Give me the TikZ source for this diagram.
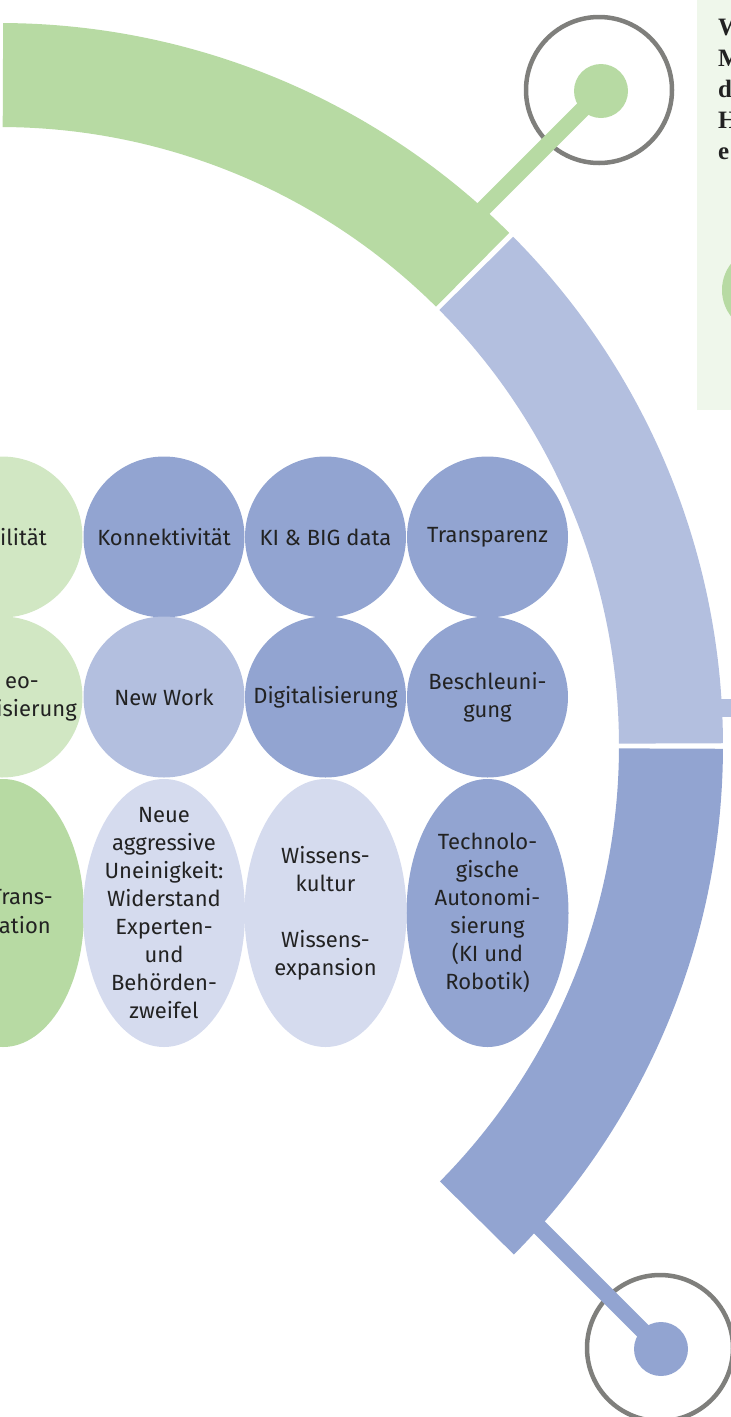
\documentclass[tikz,border=0pt]{standalone}
\usepackage{fontspec}
\setmainfont{Fira Sans}
\newfontfamily\panelfont{Liberation Serif}
\usetikzlibrary{shapes.geometric}

\definecolor{arcgreen}{HTML}{B7DAA3}
\definecolor{palegreen}{HTML}{D1E7C3}
\definecolor{panelgreen}{HTML}{EFF7EB}
\definecolor{deepblue}{HTML}{92A4D1}
\definecolor{midblue}{HTML}{B3BFDF}
\definecolor{paleblue}{HTML}{D5DBEE}
\definecolor{ringgray}{HTML}{7F7F7C}
\definecolor{ink}{HTML}{222222}

\tikzset{
  label font/.style={font=\fontsize{22}{27.9}\selectfont, text=ink},
  bubble/.style={circle, inner sep=0pt, minimum size=161, align=center, label font},
  oval/.style={ellipse, inner sep=0pt, minimum width=162, minimum height=268},
  oval text/.style={inner sep=0pt, align=center, label font},
  fragment/.style={anchor=east, inner sep=0pt, label font},
  ring/.style={circle, draw=ringgray, line width=4.5, minimum size=146, inner sep=0pt},
  dot/.style={circle, inner sep=0pt, minimum size=54},
  stem/.style={line width=16},
  panel letter/.style={anchor=base west, inner sep=0pt, text=ink,
    font={\panelfont\bfseries\fontsize{25}{31}\selectfont}},
}

\begin{document}
\begin{tikzpicture}[x=1pt, y=-1pt]
\useasboundingbox (0,0) rectangle (731,1417);
\begin{scope}
\clip (0,0) rectangle (731,1417);

% side panel
\fill[panelgreen] (697,0) rectangle (740,410);
\node[circle, fill=arcgreen, minimum size=86, inner sep=0pt] (panelball) at (765,290) {};
\node[panel letter] (pw) at (718,35)  {W};
\node[panel letter] (pm) at (718,66)  {M};
\node[panel letter] (pd) at (718,97)  {d};
\node[panel letter] (ph) at (718,128) {H};
\node[panel letter] (pe) at (718,159) {e};

% segmented outer ring around the hub
\coordinate (hub) at (0,746);
\begin{scope}[shift={(hub)}]
  \fill[arcgreen] (-45.22:723) arc[start angle=-45.22, end angle=-89.75, radius=723]
     -- (-89.75:619) arc[start angle=-89.75, end angle=-45.22, radius=619] -- cycle;
  \fill[midblue] (-44.78:723) arc[start angle=-44.78, end angle=-0.22, radius=723]
     -- (-0.22:619) arc[start angle=-0.22, end angle=-44.78, radius=619] -- cycle;
  \fill[deepblue] (0.22:723) arc[start angle=0.22, end angle=44.7, radius=723]
     -- (44.7:619) arc[start angle=44.7, end angle=0.22, radius=619] -- cycle;
\end{scope}

% stub leaving the middle segment
\coordinate (stubfoot) at (700,708);
\coordinate (stubend) at (740,708);
\draw[midblue, line width=18] (stubfoot) -- (stubend);

% upper marker
\node[ring] (topring) at (599,90) {};
\node[dot, fill=arcgreen] (topdot) at (601,91) {};
\coordinate (topfoot) at (470,222);
\draw[arcgreen, stem] (topfoot) -- (topdot.center);

% lower marker
\node[ring] (botring) at (660,1348) {};
\node[dot, fill=deepblue] (botdot) at (661,1349) {};
\coordinate (botfoot) at (505,1193);
\draw[deepblue, stem] (botfoot) -- (botdot.center);

% first column (cut by the left edge)
\node[bubble, fill=palegreen] (g1) at (2,537) {};
\node[bubble, fill=palegreen] (g2) at (2,697) {};
\node[oval, fill=arcgreen] (g3) at (3,913) {};
\node[fragment] (g1a) at (47,537) {bilität};
\node[fragment] (g2a) at (39,683) {eo-};
\node[fragment] (g2b) at (77,710) {isierung};
\node[fragment] (g3a) at (53,897) {Trans-};
\node[fragment] (g3b) at (51,925) {nation};

% grid of trends
\node[bubble, fill=deepblue] (k1) at (164,537) {Konnektivität};
\node[bubble, fill=deepblue] (k2) at (325.5,537) {KI \& BIG data};
\node[bubble, fill=deepblue] (k3) at (487.5,537) {Transparenz};

\node[bubble, fill=midblue] (n1) at (164,697) {New Work};
\node[bubble, fill=deepblue] (n2) at (325.5,697) {Digitalisierung};
\node[bubble, fill=deepblue] (n3) at (487.5,697) {Beschleuni-\\gung};

\node[oval, fill=paleblue] (e1) at (164,913) {};
\node[oval, fill=paleblue] (e2) at (325.5,913) {};
\node[oval, fill=deepblue] (e3) at (487.5,913) {};
\node[oval text] (e1t) at (e1.center)
  {Neue\\aggressive\\Uneinigkeit:\\Widerstand\\Experten-\\und\\Behörden-\\zweifel};
\node[oval text] (e2t) at (e2.center)
  {Wissens-\\kultur\\[27.9pt]Wissens-\\expansion};
\node[oval text] (e3t) at (e3.center)
  {Technolo-\\gische\\Autonomi-\\sierung\\(KI und\\Robotik)};
\end{scope}
\end{tikzpicture}
\end{document}
